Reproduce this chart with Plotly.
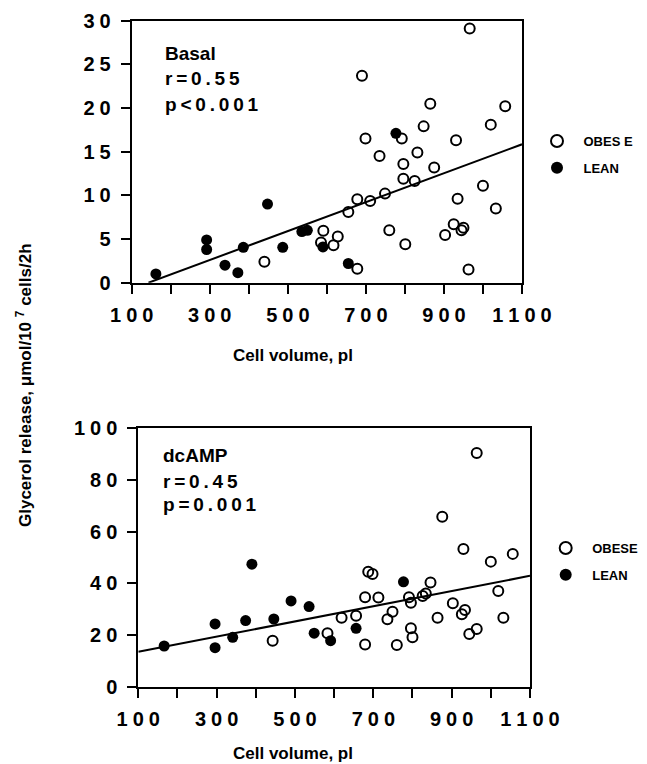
"""Glycerol release vs cell volume, basal and dcAMP-stimulated."""

import plotly.graph_objects as go

# --- data ---------------------------------------------------------------
basal_obese_x = [440, 585, 591, 617, 628, 655, 678, 678, 690, 699, 711, 735, 749, 760,
                 792, 796, 796, 801, 825, 832, 848, 865, 875, 903, 925, 931, 935, 945,
                 950, 963, 966, 1000, 1020, 1033, 1057]
basal_obese_y = [2.4, 4.6, 5.95, 4.3, 5.3, 8.1, 9.55, 1.6, 23.7, 16.5, 9.35, 14.5, 10.2, 6.0,
                 16.5, 13.6, 11.9, 4.4, 11.65, 14.9, 17.9, 20.5, 13.2, 5.45, 6.7, 16.3, 9.6, 6.0,
                 6.3, 1.5, 29.1, 11.1, 18.1, 8.5, 20.2]
basal_lean_x = [162, 292, 292, 339, 372, 386, 448, 487, 536, 550, 590, 655, 777]
basal_lean_y = [1.0, 4.9, 3.8, 2.0, 1.15, 4.05, 9.0, 4.05, 5.85, 6.0, 4.1, 2.2, 17.1]

camp_obese_x = [443, 583, 619, 656, 679, 679, 687, 698, 713, 736, 749, 760, 791, 796,
                796, 800, 826, 834, 846, 864, 876, 903, 926, 934, 930, 945, 964, 964,
                1000, 1019, 1032, 1056]
camp_obese_y = [17.8, 20.7, 26.7, 27.5, 34.6, 16.3, 44.5, 43.6, 34.5, 26.1, 29.0, 16.1, 34.6, 32.5,
                22.6, 19.1, 35.1, 36.1, 40.3, 26.7, 65.8, 32.3, 28.0, 29.7, 53.3, 20.4, 22.3, 90.4,
                48.4, 37.0, 26.7, 51.4]
camp_lean_x = [166, 296, 296, 341, 374, 390, 446, 490, 536, 549, 591, 656, 777]
camp_lean_y = [15.75, 24.3, 15.1, 19.1, 25.6, 47.4, 26.2, 33.2, 31.0, 20.7, 17.8, 22.6, 40.6]

# fitted lines (slope, intercept, x span) as drawn
basal_fit = (0.01656, -2.37, [143, 1100])
camp_fit = (0.0294, 10.56, [100, 1100])

x_ticks = [100, 300, 500, 700, 900, 1100]
basal_y_ticks = [0, 5, 10, 15, 20, 25, 30]
camp_y_ticks = [0, 20, 40, 60, 80, 100]

W, H = 647, 764
OFF = 8  # page body margin the figure is drawn inside
FONT = "Liberation Sans, Arial, sans-serif"
GAP = "\u2005"


def spaced(v):
    return GAP.join(str(v))


def fit_line(fit):
    slope, icpt, span = fit
    return span, [slope * x + icpt for x in span]


def axis(**kw):
    base = dict(
        showline=True, linecolor="black", linewidth=2, mirror=True,
        ticks="outside", ticklen=9, tickwidth=2, tickcolor="black",
        showgrid=False, zeroline=False, automargin=False,
        tickfont=dict(family=FONT, size=20, color="black", weight="bold"),
    )
    base.update(kw)
    return base


def x_axis(**kw):
    return axis(range=[100, 1100], tickvals=x_ticks, ticktext=[spaced(v) for v in x_ticks],
                ticklabelstandoff=4,
                minor=dict(ticks="outside", ticklen=9, tickwidth=2, tickcolor="black",
                           tick0=100, dtick=100, showgrid=False),
                **kw)


def px(x):
    return (x - OFF) / W


def py(y):
    return 1 - (y - OFF) / H


open_marker = dict(symbol="circle-open", size=10, color="black", line=dict(width=2, color="black"))
filled_marker = dict(symbol="circle", size=11, color="black")

fig = go.Figure()

# top panel
fig.add_trace(go.Scatter(x=basal_obese_x, y=basal_obese_y, mode="markers", name="\u2002OBES E",
                         marker=open_marker, xaxis="x", yaxis="y",
                         legend="legend", legendgroup="bo"))
fig.add_trace(go.Scatter(x=basal_lean_x, y=basal_lean_y, mode="markers", name="\u2002LEAN",
                         marker=filled_marker, xaxis="x", yaxis="y",
                         legend="legend", legendgroup="bl"))
lx, ly = fit_line(basal_fit)
fig.add_trace(go.Scatter(x=lx, y=ly, mode="lines", line=dict(color="black", width=2),
                         xaxis="x", yaxis="y", showlegend=False, hoverinfo="skip"))

# bottom panel
fig.add_trace(go.Scatter(x=camp_obese_x, y=camp_obese_y, mode="markers", name="\u2002OBESE",
                         marker=open_marker, xaxis="x2", yaxis="y2",
                         legend="legend2", legendgroup="co"))
fig.add_trace(go.Scatter(x=camp_lean_x, y=camp_lean_y, mode="markers", name="\u2002LEAN",
                         marker=filled_marker, xaxis="x2", yaxis="y2",
                         legend="legend2", legendgroup="cl"))
lx, ly = fit_line(camp_fit)
fig.add_trace(go.Scatter(x=lx, y=ly, mode="lines", line=dict(color="black", width=2),
                         xaxis="x2", yaxis="y2", showlegend=False, hoverinfo="skip"))

legend_style = dict(
    bgcolor="rgba(0,0,0,0)", borderwidth=0, xanchor="left", yanchor="top",
    font=dict(family=FONT, size=13, color="black", weight="bold"),
    tracegroupgap=7, itemsizing="constant",
)

annos = []
for txt, x, y in [("Basal", 163, 53), ("r=0.55", 163, 79), ("p<0.001", 163, 104),
                  ("dcAMP", 161, 456), ("r=0.45", 161, 481), ("p=0.001", 161, 505)]:
    shown = txt if txt in ("Basal", "dcAMP") else "\u2009".join(txt)
    annos.append(dict(text=shown, x=px(x), y=py(y), xref="paper", yref="paper",
                      xanchor="left", yanchor="middle", showarrow=False,
                      font=dict(family=FONT, size=19, color="black", weight="bold")))

for y in (355, 753):
    annos.append(dict(text="Cell volume, pl", x=px(293), y=py(y), xref="paper", yref="paper",
                      xanchor="center", yanchor="middle", showarrow=False,
                      font=dict(family=FONT, size=17, color="black", weight="bold")))

annos.append(dict(text="Glycerol release, \u03bcmol/10 <sup>7</sup> cells/2h",
                  x=px(24), y=py(385), xref="paper", yref="paper", textangle=-90,
                  xanchor="center", yanchor="middle", showarrow=False,
                  font=dict(family=FONT, size=17, color="black", weight="bold")))

fig.update_layout(
    width=W, height=H,
    margin=dict(l=0, r=0, t=0, b=0),
    paper_bgcolor="white", plot_bgcolor="white",
    xaxis=x_axis(domain=[px(131.7), px(522)], anchor="y"),
    yaxis=axis(domain=[py(282.7), py(20.7)], range=[0, 30], anchor="x",
               tickvals=basal_y_ticks, ticktext=[spaced(v) for v in basal_y_ticks],
               ticklabelstandoff=6),
    xaxis2=x_axis(domain=[px(138.3), px(530)], anchor="y2"),
    yaxis2=axis(domain=[py(686.7), py(428.3)], range=[0, 100], anchor="x2",
                tickvals=camp_y_ticks, ticktext=[spaced(v) for v in camp_y_ticks],
                ticklabelstandoff=6),
    legend=dict(x=px(537), y=py(126), **legend_style),
    legend2=dict(x=px(545.7), y=py(533), **legend_style),
    annotations=annos,
    showlegend=True,
)

fig.write_html("out.html")
